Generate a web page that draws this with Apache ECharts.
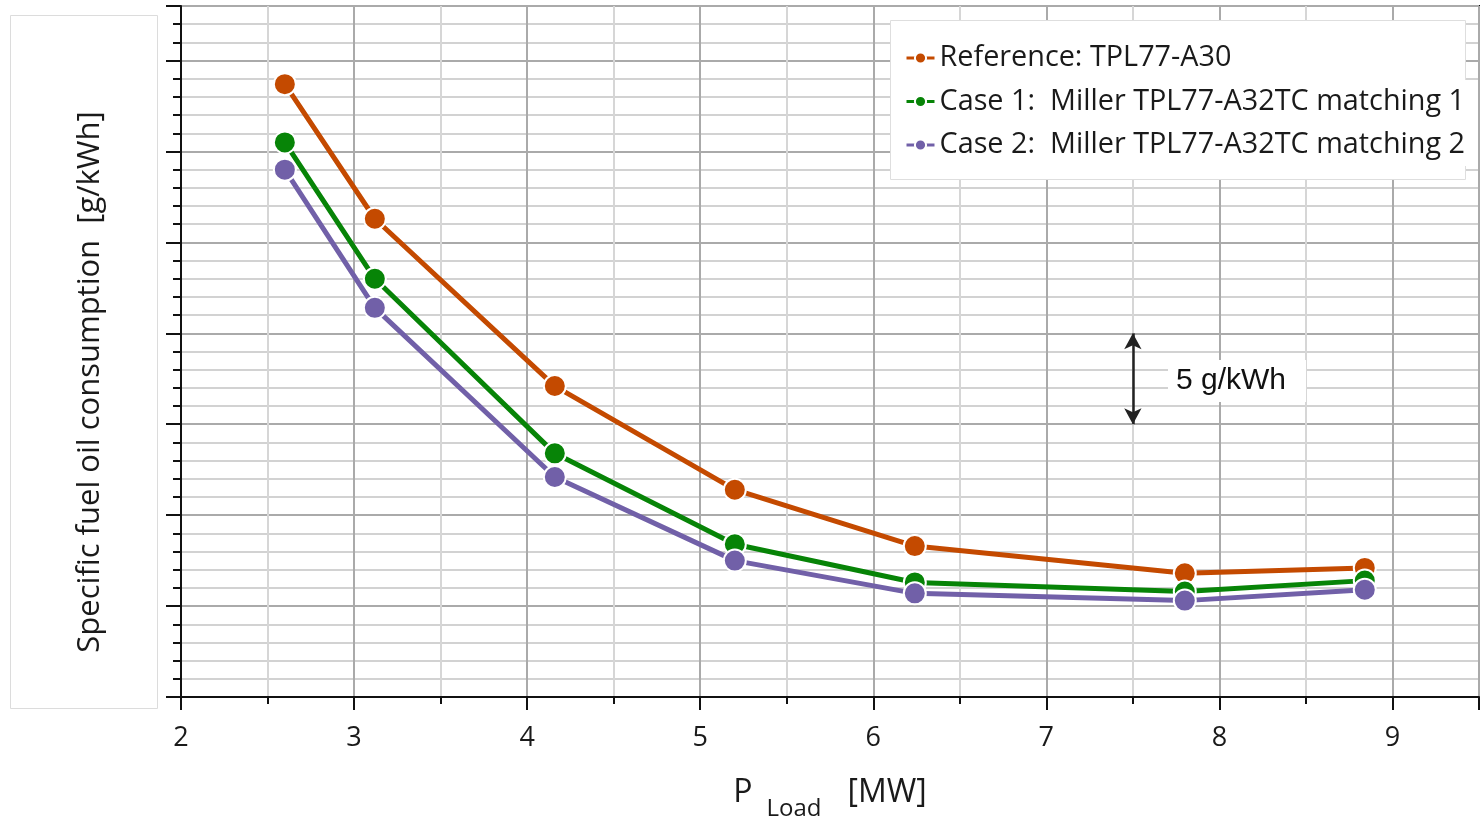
<!DOCTYPE html>
<html>
<head>
<meta charset="utf-8">
<script src="https://cdn.jsdelivr.net/npm/echarts@6/dist/echarts.min.js"></script>
<style>
  html, body { margin: 0; padding: 0; background: #fff; }
  #chartsDiv { width: 1483px; height: 821px; }
</style>
</head>
<body>
<div id="chartsDiv"></div>
<script>
// engine load [MW]
const loadMW = [2.6, 3.12, 4.16, 5.2, 6.24, 7.8, 8.84]
// SFOC (axis has no numbers, read relative to the grid)
const sfocRef = [203.7, 196.3, 187.1, 181.4, 178.3, 176.8, 177.1]
const sfocCase1 = [200.5, 193.0, 183.4, 178.4, 176.3, 175.8, 176.4]
const sfocCase2 = [199.0, 191.4, 182.1, 177.5, 175.7, 175.3, 175.9]
const seriesNames = [
  "Reference: TPL77-A30",
  "Case 1:  Miller TPL77-A32TC matching 1",
  "Case 2:  Miller TPL77-A32TC matching 2",
]
// 5 g/kWh scale arrow
const scaleArrow = { x: 7.5, from: 185, to: 190 }

const font = "'Open Sans', 'Noto Sans', sans-serif"
const colors = ["#C44A00", "#078407", "#7160A8"]

function pairs(ys) {
  return loadMW.map((x, i) => [x, ys[i]])
}

function lineSeries(name, ys, color) {
  return {
    name: name,
    type: "line",
    symbol: "circle",
    symbolSize: 22,
    lineStyle: { width: 5, color: color },
    itemStyle: { color: color, borderColor: "#fff", borderWidth: 2 },
    data: pairs(ys),
  }
}

let series = [
  lineSeries(seriesNames[0], sfocRef, colors[0]),
  lineSeries(seriesNames[1], sfocCase1, colors[1]),
  lineSeries(seriesNames[2], sfocCase2, colors[2]),
]
series[0].markLine = {
  silent: true,
  symbol: ["arrow", "arrow"],
  symbolSize: [13, 16],
  lineStyle: { color: "#222", width: 2.5, type: "solid" },
  label: { show: false },
  data: [[{ coord: [scaleArrow.x, scaleArrow.to] }, { coord: [scaleArrow.x, scaleArrow.from] }]],
}

let option = {
  animation: false,
  backgroundColor: "#fff",
  grid: {
    left: 181, right: 4, top: 6, bottom: 124,
    containLabel: false, outerBoundsMode: "none",
    show: true, borderColor: "#111", borderWidth: 2, backgroundColor: "#fff",
  },
  legend: {
    orient: "vertical",
    left: 905,
    top: 43,
    padding: 0,
    z: 20,
    itemWidth: 28,
    itemHeight: 14,
    itemGap: 13.5,
    selectedMode: false,
    lineStyle: { width: 3 },
    textStyle: { fontFamily: font, fontSize: 28.8, color: "#1a1a1a", lineHeight: 30 },
    data: seriesNames,
  },
  xAxis: {
    type: "value",
    min: 2, max: 9.5, interval: 1,
    name: "{p|P}{sub|Load}{u|[MW]}",
    nameLocation: "middle",
    nameGap: 68,
    nameTextStyle: {
      rich: {
        p: { fontFamily: font, fontSize: 32, color: "#1a1a1a", lineHeight: 56, verticalAlign: "middle", padding: [0, 14, 0, 0] },
        sub: { fontFamily: font, fontSize: 24, color: "#1a1a1a", lineHeight: 30, verticalAlign: "bottom", padding: [0, 26, 0, 0] },
        u: { fontFamily: font, fontSize: 32, color: "#1a1a1a", lineHeight: 56, verticalAlign: "middle" },
      },
    },
    axisLine: { lineStyle: { color: "#111", width: 2 } },
    axisTick: { length: 13, lineStyle: { color: "#111", width: 2 } },
    minorTick: { show: true, splitNumber: 2, length: 7, lineStyle: { color: "#111", width: 2 } },
    axisLabel: { fontFamily: font, fontSize: 27, color: "#1a1a1a", margin: 28, showMaxLabel: false },
    splitLine: { show: true, lineStyle: { color: "#aaa", width: 2 } },
    minorSplitLine: { show: true, lineStyle: { color: "#d6d6d6", width: 2 } },
  },
  yAxis: {
    type: "value",
    min: 170, max: 208, interval: 5,
    axisLine: { show: true, lineStyle: { color: "#111", width: 2 } },
    axisTick: { show: true, length: 15, lineStyle: { color: "#111", width: 2 } },
    minorTick: { show: true, splitNumber: 5, length: 8, lineStyle: { color: "#111", width: 2 } },
    axisLabel: { show: false },
    splitLine: { show: true, lineStyle: { color: "#aaa", width: 2 } },
    minorSplitLine: { show: true, lineStyle: { color: "#d2d2d2", width: 2 } },
  },
  graphic: [
    {
      type: "rect", z: -1, silent: true,
      shape: { x: 10.5, y: 15.5, width: 147, height: 693 },
      style: { fill: "#fff", stroke: "#dcdcdc", lineWidth: 1 },
    },
    {
      type: "text", x: 90, y: 382, rotation: Math.PI / 2, silent: true,
      style: {
        text: "Specific fuel oil consumption  [g/kWh]",
        fontFamily: font, fontSize: 31, fill: "#1a1a1a",
        align: "center", verticalAlign: "middle",
      },
    },
    {
      type: "rect", z: 3, silent: true,
      shape: { x: 890.5, y: 20.5, width: 575, height: 159 },
      style: { fill: "#fff", stroke: "#dedede", lineWidth: 1 },
    },
    {
      type: "rect", z: 3, silent: true,
      shape: { x: 1464, y: 80, width: 14, height: 86 },
      style: { fill: "#fff" },
    },
    {
      type: "text", z: 50, x: 1168, y: 381, silent: true,
      style: {
        text: "5 g/kWh",
        fontFamily: "'Liberation Sans', Arial, sans-serif", fontSize: 30, fill: "#111",
        verticalAlign: "middle",
        backgroundColor: "#fff", padding: [6, 20, 6, 8],
      },
    },
  ],
  series: series,
}

let Echarts = echarts.init(document.getElementById("chartsDiv"))
Echarts.setOption(option)
</script>
</body>
</html>
